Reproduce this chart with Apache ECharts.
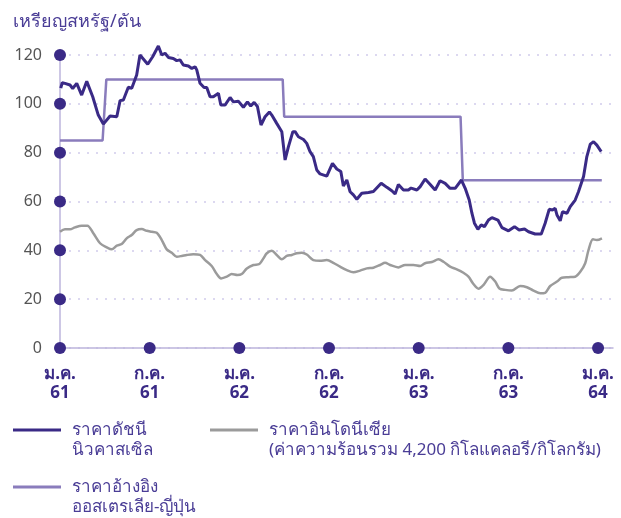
<!DOCTYPE html>
<html>
<head>
<meta charset="utf-8">
<script src="https://cdn.jsdelivr.net/npm/echarts@6/dist/echarts.min.js"></script>
<style>
  html, body { margin: 0; padding: 0; background: #fff; }
  #main { width: 621px; height: 518px; }
</style>
</head>
<body>
<div id="main"></div>
<script type="text/javascript">
// x = months since ม.ค. 61 (Jan 2018)
var xLabels = ['ม.ค.\n61', 'ก.ค.\n61', 'ม.ค.\n62', 'ก.ค.\n62', 'ม.ค.\n63', 'ก.ค.\n63', 'ม.ค.\n64'];
var xTickMonths = [0, 6, 12, 18, 24, 30, 36];
var yTicks = [0, 20, 40, 60, 80, 100, 120];

// ราคาดัชนีนิวคาสเซิล
var newcastle = [
  [0.05, 106.4], [0.15, 108.7], [0.33, 108.4], [0.67, 107.7], [0.85, 106.3], [1.12, 108.4],
  [1.45, 103.6], [1.79, 109.2], [2.19, 102.9], [2.56, 95.4], [2.90, 91.7], [3.35, 95.0],
  [3.80, 94.7], [4.02, 101.3], [4.24, 101.6], [4.57, 106.8], [4.80, 106.4], [5.13, 111.8],
  [5.35, 120.0], [5.87, 116.2], [6.20, 119.3], [6.58, 123.7], [6.81, 120.0], [7.03, 120.7],
  [7.25, 119.0], [7.58, 118.6], [7.81, 117.7], [8.03, 118.0], [8.25, 115.9], [8.59, 115.5],
  [8.82, 114.5], [9.04, 115.2], [9.15, 113.9], [9.37, 108.4], [9.64, 106.7], [9.82, 106.7],
  [10.04, 102.9], [10.26, 102.9], [10.60, 104.3], [10.76, 99.5], [11.04, 99.5], [11.38, 102.6],
  [11.60, 100.8], [11.93, 101.1], [12.27, 98.6], [12.54, 100.8], [12.76, 99.1], [12.99, 100.6],
  [13.21, 98.9], [13.45, 91.3], [13.72, 94.7], [14.01, 96.7], [14.17, 95.4], [14.50, 92.0],
  [14.84, 88.6], [15.06, 77.0], [15.28, 82.4], [15.58, 88.6], [15.73, 88.6], [15.95, 86.5],
  [16.29, 85.4], [16.51, 83.8], [16.73, 80.4], [16.95, 78.4], [17.18, 72.9], [17.40, 71.3],
  [17.85, 70.4], [18.23, 75.6], [18.52, 73.3], [18.79, 72.3], [18.96, 66.3], [19.19, 68.8],
  [19.41, 64.0], [19.63, 62.7], [19.86, 60.9], [20.19, 63.4], [20.64, 63.7], [20.97, 64.1],
  [21.49, 67.5], [21.87, 65.8], [22.20, 64.4], [22.42, 63.1], [22.64, 67.0], [22.98, 64.7],
  [23.31, 64.7], [23.49, 65.5], [23.88, 64.7], [24.10, 66.1], [24.43, 69.2], [24.77, 67.0],
  [25.10, 64.7], [25.43, 68.5], [25.77, 67.4], [26.10, 65.4], [26.44, 65.4], [26.86, 68.8],
  [27.11, 65.4], [27.38, 60.6], [27.56, 55.2], [27.73, 51.1], [27.96, 48.6], [28.18, 50.4],
  [28.40, 49.7], [28.67, 52.4], [28.90, 53.4], [29.30, 52.4], [29.57, 49.3], [30.01, 48.0],
  [30.41, 49.7], [30.72, 48.3], [31.08, 48.7], [31.35, 47.6], [31.79, 46.7], [32.20, 46.7],
  [32.46, 51.1], [32.73, 56.8], [32.95, 56.5], [33.13, 57.2], [33.25, 54.5], [33.47, 52.1],
  [33.62, 55.8], [33.92, 55.2], [34.14, 57.9], [34.47, 60.6], [34.69, 64.0], [35.03, 70.2],
  [35.25, 78.4], [35.48, 83.5], [35.70, 84.5], [35.92, 83.1], [36.21, 80.4]
];

// ราคาอินโดนีเซีย (4,200 kcal/kg)
var indonesia = [
  [0.00, 47.6], [0.33, 48.6], [0.67, 48.6], [1.00, 49.4], [1.45, 50.1], [1.83, 50.1],
  [2.23, 47.0], [2.68, 42.9], [3.13, 41.2], [3.46, 40.4], [3.80, 41.9], [4.13, 42.6],
  [4.46, 44.9], [4.80, 46.3], [5.13, 48.3], [5.47, 48.7], [5.80, 48.0], [6.14, 47.6],
  [6.47, 47.2], [6.81, 44.2], [7.14, 40.4], [7.48, 39.0], [7.81, 37.4], [8.15, 37.7],
  [8.48, 38.1], [8.92, 38.4], [9.37, 38.1], [9.71, 36.0], [10.15, 33.6], [10.49, 30.3],
  [10.78, 28.5], [11.16, 29.2], [11.49, 30.3], [11.87, 29.9], [12.16, 30.3], [12.50, 32.6],
  [12.94, 34.0], [13.34, 34.4], [13.61, 36.7], [13.84, 38.8], [14.17, 39.8], [14.50, 38.1],
  [14.84, 36.3], [15.17, 37.7], [15.51, 38.1], [15.84, 38.8], [16.18, 39.0], [16.51, 38.3],
  [16.95, 36.0], [17.40, 35.7], [17.85, 36.0], [18.29, 34.9], [18.74, 33.3], [19.19, 31.9],
  [19.63, 31.0], [20.08, 31.7], [20.53, 32.6], [20.97, 32.9], [21.42, 34.0], [21.75, 34.9],
  [22.09, 34.0], [22.64, 33.0], [23.09, 34.0], [23.65, 34.0], [24.10, 33.6], [24.43, 34.7],
  [24.88, 35.2], [25.32, 36.3], [25.66, 35.3], [26.10, 33.3], [26.55, 32.2], [26.99, 30.8],
  [27.33, 29.2], [27.66, 26.2], [28.00, 24.3], [28.33, 25.8], [28.78, 29.2], [29.12, 27.2],
  [29.40, 24.4], [29.79, 23.8], [30.23, 23.5], [30.79, 25.4], [31.24, 24.9], [31.68, 23.5],
  [32.13, 22.4], [32.46, 22.6], [32.80, 25.4], [33.25, 27.2], [33.58, 28.8], [34.02, 29.0],
  [34.47, 29.2], [34.81, 31.2], [35.14, 34.7], [35.36, 40.1], [35.66, 44.5], [35.92, 44.2],
  [36.26, 44.9]
];

// ราคาอ้างอิงออสเตรเลีย-ญี่ปุ่น
var reference = [
  [0, 85], [2.85, 85], [3.1, 110], [14.9, 110], [15.0, 94.75], [26.8, 94.75],
  [26.95, 68.75], [36.25, 68.75]
];

var dark = '#3a2a86';
var light = '#8a7cbc';
var grey = '#9b9b9b';
var font = 'Noto Sans, sans-serif';

var axisDots = yTicks.map(function (v) { return [0, v]; })
  .concat(xTickMonths.slice(1).map(function (m) { return [m, 0]; }));

var legendText = { color: '#4a3d96', fontSize: 17, lineHeight: 20, padding: [0, 0, 0, 6], fontFamily: font };
// blank first line so the swatch sits beside the first line of text
var legendFmt = function (name) { return '\n' + name; };

var chart = echarts.init(document.getElementById('main'));

var option = {
  backgroundColor: '#fff',
  animation: false,
  title: {
    text: 'เหรียญสหรัฐ/ตัน',
    left: 8,
    top: 8,
    textStyle: { color: '#4a3d96', fontSize: 18, fontWeight: 'normal', fontFamily: font }
  },
  grid: { left: 60, right: 8, top: 55, bottom: 170 },
  legend: [
    {
      data: ['ราคาดัชนี\nนิวคาสเซิล'],
      left: 8, top: 395,
      icon: 'rect', itemWidth: 48, itemHeight: 3,
      formatter: legendFmt,
      textStyle: legendText
    },
    {
      data: ['ราคาอินโดนีเซีย\n(ค่าความร้อนรวม 4,200 กิโลแคลอรี/กิโลกรัม)'],
      left: 205, top: 395,
      icon: 'rect', itemWidth: 48, itemHeight: 3,
      formatter: legendFmt,
      textStyle: legendText
    },
    {
      data: ['ราคาอ้างอิง\nออสเตรเลีย-ญี่ปุ่น'],
      left: 8, top: 452,
      icon: 'rect', itemWidth: 48, itemHeight: 3,
      formatter: legendFmt,
      textStyle: legendText
    }
  ],
  xAxis: {
    type: 'value',
    min: 0,
    max: 37,
    interval: 6,
    axisLine: { show: true, lineStyle: { color: '#bcb4dc', width: 1.5 } },
    axisTick: { show: false },
    splitLine: { show: false },
    axisLabel: {
      color: dark,
      fontSize: 17,
      fontWeight: 'bold',
      lineHeight: 19,
      margin: 17,
      fontFamily: font,
      showMaxLabel: false,
      formatter: function (v) {
        var i = xTickMonths.indexOf(v);
        return i >= 0 ? xLabels[i] : '';
      }
    }
  },
  yAxis: {
    type: 'value',
    min: 0,
    max: 120,
    interval: 20,
    axisLine: { show: true, lineStyle: { color: '#bcb4dc', width: 1.5 } },
    axisTick: { show: false },
    splitLine: { show: true, lineStyle: { color: '#dcd8f0', width: 2, type: [2, 7] } },
    axisLabel: { color: '#555', fontSize: 16, margin: 18, fontFamily: font }
  },
  series: [
    {
      name: 'ราคาอ้างอิง\nออสเตรเลีย-ญี่ปุ่น',
      type: 'line',
      data: reference,
      showSymbol: false,
      clip: false,
      color: light,
      lineStyle: { width: 2.5, color: light }
    },
    {
      name: 'ราคาอินโดนีเซีย\n(ค่าความร้อนรวม 4,200 กิโลแคลอรี/กิโลกรัม)',
      type: 'line',
      data: indonesia,
      showSymbol: false,
      clip: false,
      smooth: 0.3,
      color: grey,
      lineStyle: { width: 2.5, color: grey }
    },
    {
      name: 'ราคาดัชนี\nนิวคาสเซิล',
      type: 'line',
      data: newcastle,
      showSymbol: false,
      clip: false,
      color: dark,
      lineStyle: { width: 3, color: dark }
    },
    {
      type: 'scatter',
      data: axisDots,
      symbolSize: 12,
      clip: false,
      silent: true,
      z: 10,
      itemStyle: { color: dark, opacity: 1 }
    }
  ]
};

chart.setOption(option);
</script>
</body>
</html>
